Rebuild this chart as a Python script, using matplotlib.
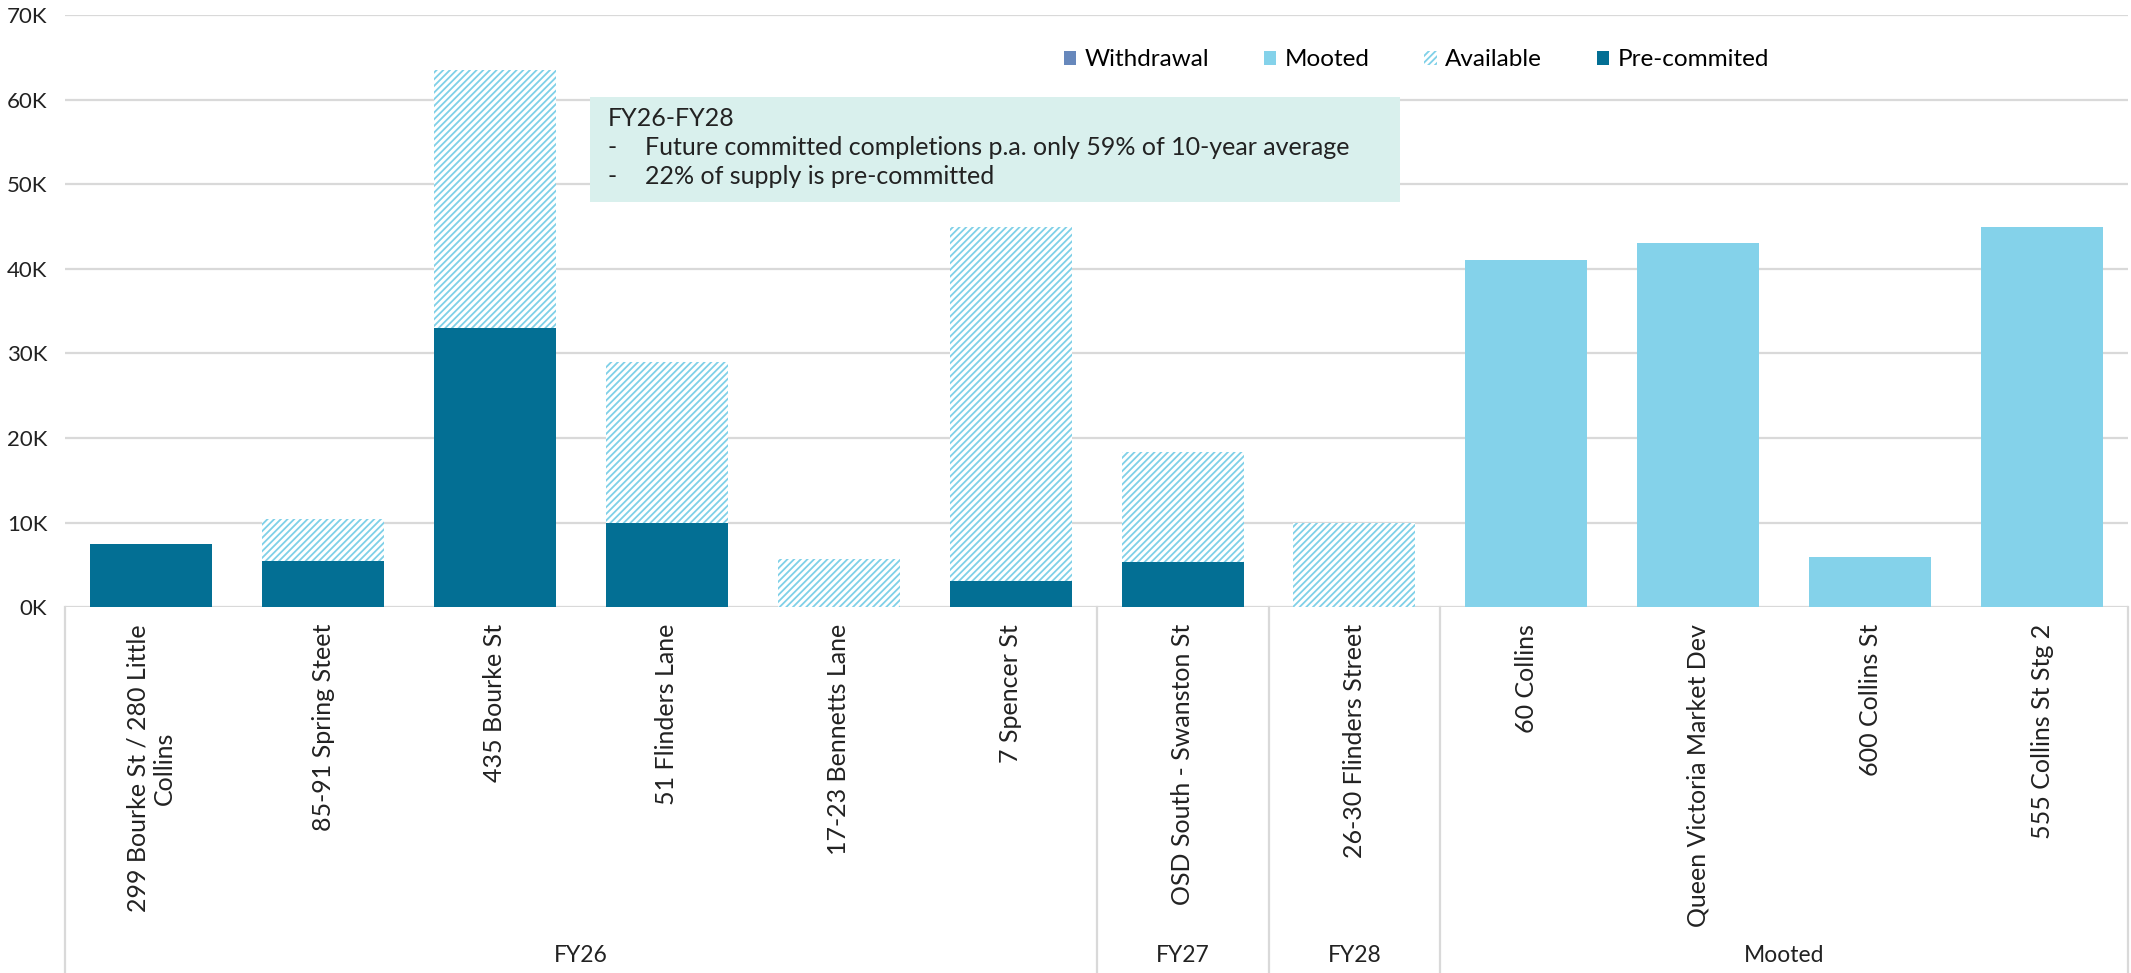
import matplotlib
matplotlib.use('Agg')
import matplotlib.pyplot as plt
from matplotlib.patches import Patch, Rectangle

plt.rcParams['font.family'] = ['Lato', 'DejaVu Sans']
plt.rcParams['hatch.linewidth'] = 1.3

# Data (sqm)
categories = [
    '299 Bourke St / 280 Little\nCollins', '85-91 Spring Steet', '435 Bourke St',
    '51 Flinders Lane', '17-23 Bennetts Lane', '7 Spencer St',
    'OSD South - Swanston St', '26-30 Flinders Street',
    '60 Collins', 'Queen Victoria Market Dev', '600 Collins St', '555 Collins St Stg 2',
]
groups = ['FY26', 'FY27', 'FY28', 'Mooted']
group_sizes = [6, 1, 1, 4]

pre_committed = [7500, 5500, 33000, 10000, 0, 3100, 5400, 0, 0, 0, 0, 0]
available = [0, 5000, 30500, 19000, 5700, 41900, 13000, 10000, 0, 0, 0, 0]
mooted = [0, 0, 0, 0, 0, 0, 0, 0, 41000, 43000, 6000, 45000]
withdrawal = [0] * 12

yticks = [0, 10000, 20000, 30000, 40000, 50000, 60000, 70000]

c_pre = '#036F94'
c_avail = '#7FD0E8'
c_mooted = '#84D2EA'
c_withdraw = '#6788BC'
grid_c = '#D9D9D9'
txt_c = '#222222'

fig = plt.figure(figsize=(21.31, 9.73), dpi=100)
ax = fig.add_axes([0.0306, 0.3757, 0.968, 0.609])

x = list(range(len(categories)))
w = 0.71
ax.bar(x, pre_committed, width=w, color=c_pre, zorder=3)
ax.bar(x, available, width=w, bottom=pre_committed, color='white',
       edgecolor=c_avail, hatch='/////', linewidth=0, zorder=3)
base2 = [p + a for p, a in zip(pre_committed, available)]
ax.bar(x, mooted, width=w, bottom=base2, color=c_mooted, zorder=3)
base3 = [b + m for b, m in zip(base2, mooted)]
ax.bar(x, withdrawal, width=w, bottom=base3, color=c_withdraw, zorder=3)

ax.set_xlim(-0.5, len(categories) - 0.5)
ax.set_ylim(0, 70000)
ax.set_yticks(yticks)
ax.set_yticklabels([f'{v // 1000}K' for v in yticks])
ax.set_xticks(x)
ax.set_xticklabels(categories, rotation=90, multialignment='center')
ax.tick_params(axis='both', length=0, colors=txt_c)
ax.tick_params(axis='x', pad=12, labelsize=18)
ax.tick_params(axis='y', pad=13, labelsize=16)
ax.yaxis.grid(True, color=grid_c, linewidth=1.6, zorder=0)
ax.set_axisbelow(True)
for s in ax.spines.values():
    s.set_visible(False)

# group separators and labels below the axis
bottom_ax = -0.3757 / 0.609
bounds = [-0.5]
for n in group_sizes:
    bounds.append(bounds[-1] + n)
trans = ax.get_xaxis_transform()
for b in bounds:
    ax.plot([b, b], [0, bottom_ax], transform=trans, color=grid_c,
            linewidth=1.6, clip_on=False)
for g, lo, hi in zip(groups, bounds[:-1], bounds[1:]):
    ax.text((lo + hi) / 2, -0.587, g, transform=trans, ha='center',
            va='center', fontsize=16.5, color=txt_c)

# annotation box
fig.patches.append(Rectangle((0.2768, 0.7919), 0.3801, 0.1089,
                             transform=fig.transFigure, facecolor='#D9F0ED',
                             edgecolor='none', zorder=5))
fig.text(0.2851, 0.878, 'FY26-FY28', fontsize=18, va='center', color=txt_c, zorder=6)
notes = ['Future committed completions p.a. only 59% of 10-year average',
         '22% of supply is pre-committed']
for i, n in enumerate(notes):
    yy = 0.848 - i * 0.0295
    fig.text(0.2851, yy, '-', fontsize=18, va='center', color=txt_c, zorder=6)
    fig.text(0.3029, yy, n, fontsize=18, va='center', color=txt_c, zorder=6)

handles = [
    Patch(facecolor=c_withdraw, label='Withdrawal'),
    Patch(facecolor=c_mooted, label='Mooted'),
    Patch(facecolor='white', edgecolor=c_avail, hatch='/////', linewidth=0, label='Available'),
    Patch(facecolor=c_pre, label='Pre-commited'),
]
fig.legend(handles=handles, loc='center right', bbox_to_anchor=(0.830, 0.9385),
           ncol=4, frameon=False, fontsize=17.5, handlelength=0.5, handleheight=0.5,
           handletextpad=0.35, columnspacing=2.25, borderaxespad=0, borderpad=0)

fig.savefig('out.png', dpi=100)
